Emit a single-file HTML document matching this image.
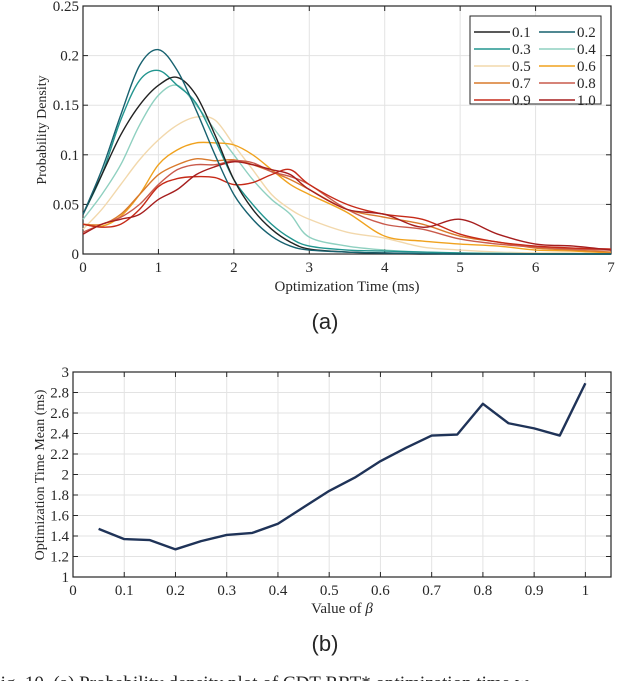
<!DOCTYPE html>
<html><head><meta charset="utf-8"><style>
body{margin:0;background:#fff;width:640px;height:681px;overflow:hidden}
svg{display:block}
text{font-family:"Liberation Serif",serif;fill:#262626}
</style></head><body>
<svg id="fig" width="640" height="681" viewBox="0 0 640 681">
<g id="chartA"></g>
<g id="chartB"></g>
<text x="325" y="329" text-anchor="middle" font-size="22" style="font-family:'Liberation Sans',sans-serif">(a)</text>
<text x="325" y="651" text-anchor="middle" font-size="22" style="font-family:'Liberation Sans',sans-serif">(b)</text>
<text x="-10" y="689" font-size="19">Fig. 10.  (a) Probability density plot of CDT-RRT* optimization time w</text>
</svg>
<script>
const NS="http://www.w3.org/2000/svg";
// ---- Chart A data ----
const xsA=[0,0.25,0.5,0.75,1,1.25,1.5,1.75,2,2.25,2.5,2.75,3,3.5,4,4.5,5,5.5,6,6.5,7];
const seriesNames=["0.1","0.2","0.3","0.4","0.5","0.6","0.7","0.8","0.9","1.0"];
const s01=[.04,.08,.12,.15,.17,.178,.16,.12,.075,.045,.025,.012,.005,.002,.001,0,0,0,0,0,0];
const s02=[.04,.085,.14,.19,.206,.185,.145,.10,.06,.035,.018,.008,.004,.002,.001,.0005,0,0,0,0,0];
const s03=[.04,.08,.135,.175,.185,.17,.152,.115,.075,.05,.03,.016,.008,.004,.003,.002,.001,0,0,0,0];
const s04=[.035,.06,.09,.13,.16,.17,.15,.125,.10,.075,.055,.04,.017,.008,.004,.002,.001,.001,0,0,0];
const s05=[.025,.045,.07,.095,.115,.13,.138,.135,.11,.085,.06,.045,.035,.022,.016,.007,.004,.002,.001,.001,0];
const s06=[.03,.028,.038,.06,.09,.105,.112,.112,.11,.10,.085,.07,.06,.042,.018,.013,.01,.008,.004,.003,.001];
const s07=[.03,.03,.04,.06,.08,.09,.096,.094,.095,.09,.083,.075,.065,.045,.037,.03,.018,.012,.006,.004,.002];
const s08=[.022,.03,.037,.05,.07,.085,.09,.09,.094,.092,.083,.078,.07,.045,.03,.025,.015,.01,.007,.005,.004];
const s09=[.03,.027,.03,.045,.068,.076,.078,.077,.07,.072,.08,.085,.07,.05,.04,.035,.02,.012,.008,.006,.005];
const s10=[.02,.03,.035,.04,.055,.065,.08,.088,.093,.09,.085,.08,.065,.045,.04,.027,.035,.02,.01,.008,.004];
const xTicksA=[0,1,2,3,4,5,6,7];
const yTicksA=[0,0.05,0.1,0.15,0.2,0.25];
const yTickLabelsA=["0","0.05","0.1","0.15","0.2","0.25"];
// ---- Chart B data ----
const betas=[0.05,0.1,0.15,0.2,0.25,0.3,0.35,0.4,0.45,0.5,0.55,0.6,0.65,0.7,0.75,0.8,0.85,0.9,0.95,1];
const means=[1.47,1.37,1.36,1.27,1.35,1.41,1.43,1.52,1.68,1.84,1.97,2.13,2.26,2.38,2.39,2.69,2.50,2.45,2.38,2.89];
const xTicksB=[0,0.1,0.2,0.3,0.4,0.5,0.6,0.7,0.8,0.9,1];
const xTickLabelsB=["0","0.1","0.2","0.3","0.4","0.5","0.6","0.7","0.8","0.9","1"];
const yTicksB=[1,1.2,1.4,1.6,1.8,2,2.2,2.4,2.6,2.8,3];
const yTickLabelsB=["1","1.2","1.4","1.6","1.8","2","2.2","2.4","2.6","2.8","3"];

const colors=["#222222","#17616f","#22958f","#8fd0c0","#f2d8ac","#f0a21e","#d97a2c","#c95a4c","#c62a18","#a61e1e"];

function el(tag,attrs,parent){const e=document.createElementNS(NS,tag);for(const k in attrs)e.setAttribute(k,attrs[k]);parent.appendChild(e);return e;}
function smooth(pts){let d="M"+pts[0][0]+","+pts[0][1];for(let i=0;i<pts.length-1;i++){const p0=pts[Math.max(0,i-1)],p1=pts[i],p2=pts[i+1],p3=pts[Math.min(pts.length-1,i+2)];const c1=[p1[0]+(p2[0]-p0[0])/6,p1[1]+(p2[1]-p0[1])/6],c2=[p2[0]-(p3[0]-p1[0])/6,p2[1]-(p3[1]-p1[1])/6];d+=" C"+c1[0]+","+c1[1]+" "+c2[0]+","+c2[1]+" "+p2[0]+","+p2[1];}return d;}

function axesFrame(g,L,T,R,B,xt,xl,xs,yt,yl,ys,name){
  for(let i=0;i<xt.length;i++){const x=xs(xt[i]);
    const gl=el("line",{x1:x,x2:x,y1:T,y2:B,stroke:"#e3e3e3","stroke-width":1},g);
    
    el("line",{x1:x,x2:x,y1:B,y2:B-5,stroke:"#262626"},g);el("line",{x1:x,x2:x,y1:T,y2:T+5,stroke:"#262626"},g);
    const t=el("text",{x:x,y:B+18,"text-anchor":"middle","font-size":15},g);t.textContent=xl[i];
    }
  for(let i=0;i<yt.length;i++){const y=ys(yt[i]);
    const gl=el("line",{x1:L,x2:R,y1:y,y2:y,stroke:"#e3e3e3","stroke-width":1},g);
    
    el("line",{x1:L,x2:L+5,y1:y,y2:y,stroke:"#262626"},g);el("line",{x1:R,x2:R-5,y1:y,y2:y,stroke:"#262626"},g);
    const t=el("text",{x:L-4,y:y+5,"text-anchor":"end","font-size":15},g);t.textContent=yl[i];
    }
  const r=el("rect",{x:L,y:T,width:R-L,height:B-T,fill:"none",stroke:"#262626","stroke-width":1.2},g);
  
}

// Chart A
(function(){
  const g=document.getElementById("chartA");
  const L=83,R=611,T=6,B=254;
  const xs=v=>L+(v/7)*(R-L), ys=v=>B-(v/0.25)*(B-T);
  axesFrame(g,L,T,R,B,xTicksA,xTicksA.map(String),xs,yTicksA,yTickLabelsA,ys,"density");
  const all=[s01,s02,s03,s04,s05,s06,s07,s08,s09,s10];
  const order=[4,3,5,6,7,8,9,2,0,1];
  order.forEach(k=>{const pts=xsA.map((x,i)=>[xs(x),ys(all[k][i])]);
    const p=el("path",{d:smooth(pts),fill:"none",stroke:colors[k],"stroke-width":1.4},g);
    });
  const lg=el("g",{},g);
  el("rect",{x:470,y:16,width:131,height:88,fill:"#fff",stroke:"#262626","stroke-width":1},lg);
  seriesNames.forEach((n,k)=>{const col=k%2,row=Math.floor(k/2);const x0=474+col*65,y0=32+row*17;
    const ln=el("line",{x1:x0,x2:x0+36,y1:y0,y2:y0,stroke:colors[k],"stroke-width":1.6},lg);
    
    const t=el("text",{x:x0+38,y:y0+5,"font-size":15},lg);t.textContent=n;
    });
  const xt=el("text",{x:(L+R)/2,y:291,"text-anchor":"middle","font-size":15},g);xt.textContent="Optimization Time (ms)";
  
  const yt=el("text",{x:0,y:0,"text-anchor":"middle","font-size":14,transform:"translate(46,130) rotate(-90)"},g);yt.textContent="Probability Density";
  
})();

// Chart B
(function(){
  const g=document.getElementById("chartB");
  const L=73,R=611,T=372,B=577;
  const xs=v=>L+(v/1.05)*(R-L), ys=v=>B-((v-1)/2)*(B-T);
  axesFrame(g,L,T,R,B,xTicksB,xTickLabelsB,xs,yTicksB,yTickLabelsB,ys,"mean");
  const pts=betas.map((b,i)=>xs(b)+","+ys(means[i])).join(" ");
  const p=el("polyline",{points:pts,fill:"none",stroke:"#1f3358","stroke-width":2.4,"stroke-linejoin":"round"},g);
  
  const xt=el("text",{x:(L+R)/2,y:613,"text-anchor":"middle","font-size":15},g);xt.innerHTML='Value of <tspan font-style="italic">β</tspan>';
  
  const yt=el("text",{x:0,y:0,"text-anchor":"middle","font-size":14,transform:"translate(44,475) rotate(-90)"},g);yt.textContent="Optimization Time Mean (ms)";
  
})();
</script>
</body></html>
